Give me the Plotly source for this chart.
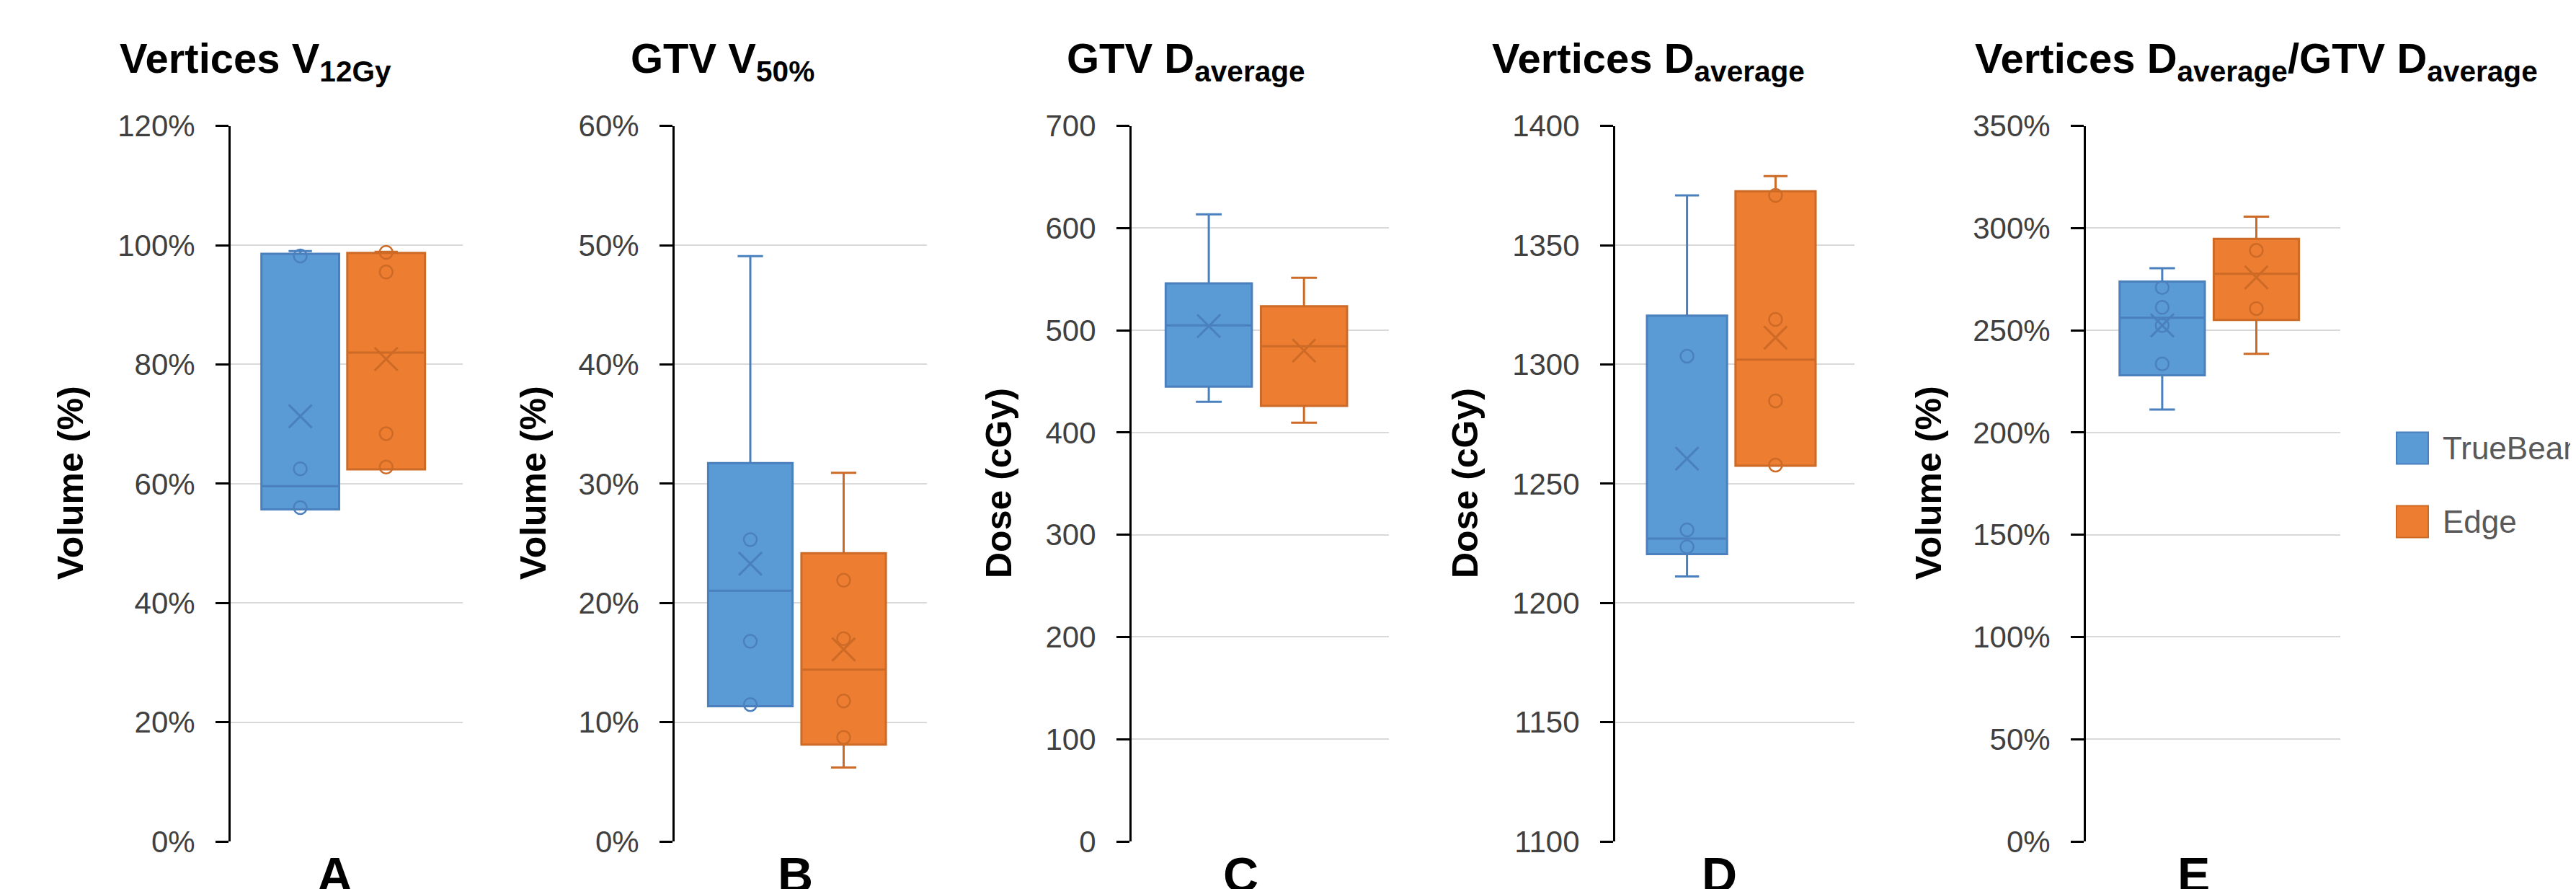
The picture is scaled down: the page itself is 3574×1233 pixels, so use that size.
import plotly.graph_objects as go
from plotly.subplots import make_subplots

W, H = 3574, 1233

# ---------------- data ----------------
panels = ["A", "B", "C", "D", "E"]
titles = [
    "Vertices V<sub>12Gy</sub>",
    "GTV V<sub>50%</sub>",
    "GTV D<sub>average</sub>",
    "Vertices D<sub>average</sub>",
    "Vertices D<sub>average</sub>/GTV D<sub>average</sub>",
]
y_titles = ["Volume (%)", "Volume (%)", "Dose (cGy)", "Dose (cGy)", "Volume (%)"]
y_ranges = [[0, 120], [0, 60], [0, 700], [1100, 1400], [0, 350]]
y_dticks = [20, 10, 100, 50, 50]
y_suffix = ["%", "%", "", "", "%"]
series_names = ["TrueBeam", "Edge"]

# TrueBeam box statistics per panel
tb_q1 = [55.7, 11.33, 444.9, 1220.5, 228.0]
tb_median = [59.6, 21.03, 504.9, 1227.0, 256.2]
tb_q3 = [98.56, 31.73, 546.0, 1320.5, 273.9]
tb_lower = [55.7, 11.33, 430.1, 1211.1, 211.3]
tb_upper = [99.0, 49.08, 613.5, 1370.9, 280.4]
tb_mean = [71.3, 23.29, 504.2, 1260.5, 252.4]
tb_points = [
    [98.2, 62.5, 56.0],
    [25.31, 16.78, 11.48],
    [],
    [1303.5, 1230.6, 1223.5],
    [271.0, 261.3, 252.4, 233.6],
]

# Edge box statistics per panel
ed_q1 = [62.4, 8.11, 426.1, 1257.5, 255.1]
ed_median = [82.0, 14.41, 484.4, 1302.0, 277.7]
ed_q3 = [98.7, 24.17, 523.6, 1372.6, 294.8]
ed_lower = [62.4, 6.20, 409.6, 1257.5, 238.5]
ed_upper = [98.9, 30.91, 551.4, 1379.0, 305.6]
ed_mean = [80.9, 16.11, 480.2, 1311.2, 275.9]
ed_points = [
    [98.8, 95.5, 68.4, 62.8],
    [21.91, 17.0, 11.77, 8.72],
    [],
    [1370.9, 1318.9, 1284.7, 1257.8],
    [289.1, 260.7],
]

# ---------------- style / layout ----------------
FILL = ["#5B9BD5", "#ED7D31"]
LINE = ["#4A80BD", "#CC6A26"]
FONT = "Liberation Sans, Arial, sans-serif"

axis_left_px = [312, 928, 1562, 2233, 2886]
axis_right_px = [634, 1278, 1919, 2565, 3239]
plot_top_px, plot_bottom_px = 166.7, 1159
title_left_px = [156, 865, 1470, 2060, 2730]
ytitle_x_px = [90, 732, 1378, 2025, 2668]
letter_x_px = [456, 1095, 1713, 2377, 3035]


def px_x(p):
    return p / W


def px_y(p):
    return 1 - p / H


fig = make_subplots(rows=1, cols=5)

stats = [
    (tb_q1, tb_median, tb_q3, tb_lower, tb_upper, tb_mean, tb_points),
    (ed_q1, ed_median, ed_q3, ed_lower, ed_upper, ed_mean, ed_points),
]

for i, cat in enumerate(panels):
    for s, (q1, med, q3, lo, up, mn, pts) in enumerate(stats):
        grp = series_names[s]
        fig.add_trace(
            go.Box(
                x=[cat], q1=[q1[i]], median=[med[i]], q3=[q3[i]],
                lowerfence=[lo[i]], upperfence=[up[i]],
                orientation="v", name=grp, offsetgroup=grp,
                fillcolor=FILL[s], line=dict(color=LINE[s], width=3),
                whiskerwidth=0.3, boxpoints=False, showlegend=False,
            ),
            row=1, col=i + 1,
        )
        if pts[i]:
            fig.add_trace(
                go.Scatter(
                    x=[cat] * len(pts[i]), y=pts[i], mode="markers",
                    offsetgroup=grp, showlegend=False,
                    marker=dict(symbol="circle-open", size=18, color=LINE[s],
                                line=dict(width=2.5, color=LINE[s])),
                ),
                row=1, col=i + 1,
            )
        fig.add_trace(
            go.Scatter(
                x=[cat], y=[mn[i]], mode="markers", offsetgroup=grp,
                showlegend=False,
                marker=dict(symbol="x-thin-open", size=32, color=LINE[s],
                            line=dict(width=3, color=LINE[s])),
            ),
            row=1, col=i + 1,
        )

    xa = "xaxis" if i == 0 else f"xaxis{i + 1}"
    ya = "yaxis" if i == 0 else f"yaxis{i + 1}"
    fig.layout[xa].update(
        domain=[px_x(axis_left_px[i]), px_x(axis_right_px[i])],
        type="category", range=[-0.485, 0.515], automargin=False,
        showticklabels=False, showgrid=False, zeroline=False, showline=False,
        ticks="",
    )
    fig.layout[ya].update(
        domain=[px_y(plot_bottom_px), px_y(plot_top_px)], automargin=False,
        range=y_ranges[i], dtick=y_dticks[i], tick0=0, ticksuffix=y_suffix[i],
        showline=True, linecolor="black", linewidth=3,
        ticks="outside", ticklen=18, tickwidth=3, tickcolor="black",
        showgrid=True, gridcolor="#D9D9D9", gridwidth=2, zeroline=False,
        tickfont=dict(family=FONT, size=42, color="#404040"),
        ticklabelstandoff=20,
    )

    # panel title
    fig.add_annotation(
        xref="paper", yref="paper", x=px_x(title_left_px[i]), y=px_y(77),
        xanchor="left", yanchor="middle", showarrow=False,
        text=f"<b>{titles[i]}</b>",
        font=dict(family=FONT, size=58, color="black"),
    )
    # y-axis title
    fig.add_annotation(
        xref="paper", yref="paper", x=px_x(ytitle_x_px[i]), y=px_y(662),
        xanchor="center", yanchor="middle", showarrow=False, textangle=-90,
        text=f"<b>{y_titles[i]}</b>",
        font=dict(family=FONT, size=50, color="black"),
    )
    # panel letter
    fig.add_annotation(
        xref="paper", yref="paper", x=px_x(letter_x_px[i]), y=px_y(1205),
        xanchor="center", yanchor="middle", showarrow=False,
        text=f"<b>{cat}</b>",
        font=dict(family=FONT, size=68, color="black"),
    )

# legend (drawn manually to match large swatches)
legend_y_px = [613.5, 715.5]
for s, name in enumerate(series_names):
    cy = legend_y_px[s]
    fig.add_shape(
        type="rect", xref="paper", yref="paper",
        x0=px_x(3317), x1=px_x(3361), y0=px_y(cy + 22), y1=px_y(cy - 22),
        fillcolor=FILL[s], line=dict(color=LINE[s], width=2),
    )
    fig.add_annotation(
        xref="paper", yref="paper", x=px_x(3379), y=px_y(cy),
        xanchor="left", yanchor="middle", showarrow=False, text=name,
        font=dict(family=FONT, size=44, color="#595959"),
    )

fig.update_layout(
    width=W, height=H,
    margin=dict(l=0, r=0, t=0, b=0, pad=0, autoexpand=False),
    paper_bgcolor="white", plot_bgcolor="white",
    boxmode="group", boxgap=0.26, boxgroupgap=0.095,
    scattermode="group", scattergap=0.26,
    showlegend=False,
)

fig.write_html("out.html")
